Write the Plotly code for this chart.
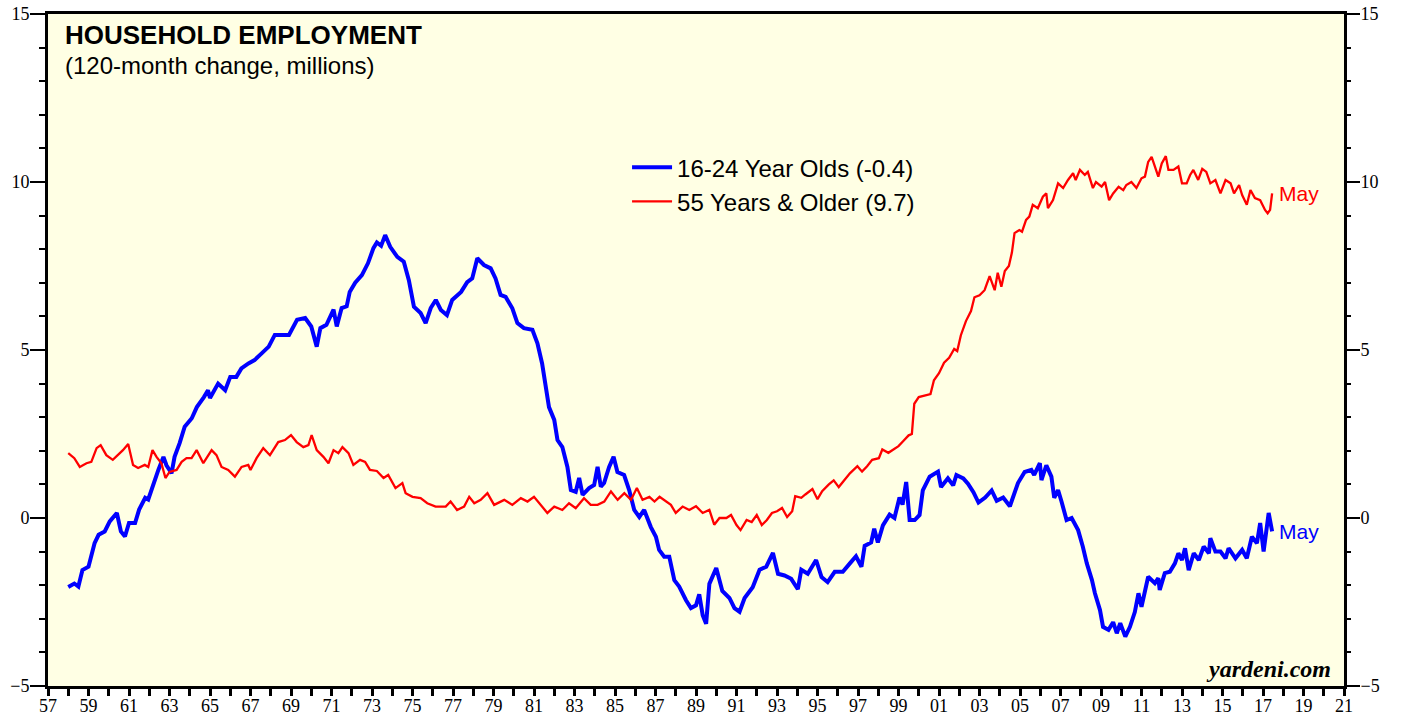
import plotly.graph_objects as go

# ---- data (decimal year, value in millions) ----
youth_dates = [1958.0, 1958.3, 1958.5, 1958.7, 1959.0, 1959.1, 1959.3, 1959.5, 1959.8, 1960.05,
    1960.4, 1960.6, 1960.8, 1961.0, 1961.3, 1961.5, 1961.8, 1961.95, 1962.2, 1962.45,
    1962.7, 1962.85, 1963.1, 1963.25, 1963.5, 1963.75, 1964.1, 1964.35, 1964.7, 1964.9,
    1965.0, 1965.4, 1965.75, 1966.0, 1966.3, 1966.55, 1966.9, 1967.2, 1967.55, 1967.9,
    1968.2, 1968.55, 1968.9, 1969.3, 1969.7, 1970.0, 1970.27, 1970.45, 1970.75, 1971.1,
    1971.26, 1971.5, 1971.75, 1971.9, 1972.17, 1972.5, 1972.8, 1973.07, 1973.24, 1973.45,
    1973.65, 1973.9, 1974.25, 1974.57, 1974.82, 1975.07, 1975.4, 1975.65, 1975.9, 1976.15,
    1976.4, 1976.7, 1976.96, 1977.4, 1977.7, 1977.95, 1978.2, 1978.53, 1978.86, 1979.1,
    1979.35, 1979.6, 1979.93, 1980.18, 1980.5, 1980.92, 1981.17, 1981.4, 1981.58, 1981.74,
    1982.0, 1982.16, 1982.4, 1982.65, 1982.82, 1983.06, 1983.23, 1983.4, 1983.72, 1983.97,
    1984.14, 1984.3, 1984.46, 1984.71, 1984.93, 1985.12, 1985.45, 1985.7, 1985.95, 1986.2,
    1986.44, 1986.77, 1987.02, 1987.18, 1987.43, 1987.68, 1987.93, 1988.17, 1988.5, 1988.75,
    1989.0, 1989.16, 1989.33, 1989.5, 1989.66, 1990.0, 1990.3, 1990.65, 1990.9, 1991.15,
    1991.4, 1991.8, 1992.14, 1992.47, 1992.8, 1993.05, 1993.37, 1993.7, 1994.03, 1994.2,
    1994.52, 1994.93, 1995.2, 1995.5, 1995.85, 1996.25, 1996.6, 1996.9, 1997.17, 1997.33,
    1997.65, 1997.8, 1997.98, 1998.23, 1998.56, 1998.8, 1999.05, 1999.2, 1999.38, 1999.55,
    1999.8, 2000.04, 2000.2, 2000.54, 2000.95, 2001.1, 2001.44, 2001.7, 2001.86, 2002.2,
    2002.43, 2002.7, 2002.95, 2003.28, 2003.6, 2003.85, 2004.17, 2004.5, 2004.9, 2005.23,
    2005.56, 2005.7, 2005.98, 2006.06, 2006.3, 2006.55, 2006.69, 2006.88, 2007.05, 2007.3,
    2007.55, 2007.87, 2008.1, 2008.3, 2008.55, 2008.7, 2008.95, 2009.1, 2009.37, 2009.6,
    2009.78, 2009.95, 2010.2, 2010.43, 2010.67, 2010.85, 2011.0, 2011.17, 2011.33, 2011.66,
    2011.83, 2011.9, 2012.15, 2012.4, 2012.65, 2012.82, 2013.0, 2013.15, 2013.33, 2013.58,
    2013.83, 2014.07, 2014.33, 2014.4, 2014.65, 2014.9, 2015.15, 2015.3, 2015.64, 2015.97,
    2016.2, 2016.45, 2016.7, 2016.86, 2017.03, 2017.28, 2017.45]
youth_values = [-2.05, -1.95, -2.04, -1.55, -1.45, -1.2, -0.75, -0.5, -0.4, -0.1,
    0.15, -0.4, -0.55, -0.15, -0.15, 0.25, 0.6, 0.55, 1.03, 1.43,
    1.82, 1.57, 1.33, 1.82, 2.23, 2.72, 2.97, 3.3, 3.6, 3.8,
    3.57, 4.0, 3.8, 4.2, 4.2, 4.45, 4.6, 4.7, 4.9, 5.1,
    5.45, 5.45, 5.45, 5.9, 5.95, 5.7, 5.1, 5.65, 5.75, 6.2,
    5.7, 6.25, 6.3, 6.73, 7.0, 7.23, 7.58, 8.03, 8.2, 8.1,
    8.42, 8.07, 7.77, 7.63, 7.08, 6.29, 6.1, 5.8, 6.25, 6.49,
    6.19, 6.04, 6.49, 6.73, 7.02, 7.13, 7.73, 7.53, 7.43, 7.13,
    6.64, 6.58, 6.24, 5.8, 5.65, 5.6, 5.2, 4.6, 3.9, 3.3,
    2.92, 2.32, 2.11, 1.52, 0.83, 0.78, 1.19, 0.69, 0.89, 0.98,
    1.52, 0.93, 1.04, 1.52, 1.82, 1.37, 1.28, 0.83, 0.24, 0.03,
    0.24, -0.27, -0.56, -0.95, -1.15, -1.15, -1.85, -2.04, -2.44, -2.68,
    -2.6, -2.27, -2.89, -3.15, -1.96, -1.49, -2.17, -2.38, -2.68, -2.79,
    -2.38, -2.06, -1.54, -1.45, -1.04, -1.66, -1.71, -1.81, -2.12, -1.54,
    -1.66, -1.25, -1.76, -1.91, -1.6, -1.6, -1.35, -1.14, -1.45, -0.83,
    -0.73, -0.32, -0.73, -0.22, 0.1, 0.0, 0.61, 0.4, 1.07, -0.06,
    -0.06, 0.09, 0.82, 1.23, 1.38, 0.92, 1.18, 0.97, 1.28, 1.18,
    1.02, 0.77, 0.46, 0.61, 0.82, 0.51, 0.61, 0.35, 1.04, 1.37,
    1.43, 1.28, 1.63, 1.13, 1.57, 1.23, 0.6, 0.83, 0.49, -0.06,
    0.0, -0.36, -0.85, -1.35, -1.84, -2.24, -2.74, -3.24, -3.33, -3.1,
    -3.43, -3.13, -3.53, -3.24, -2.8, -2.24, -2.64, -2.24, -1.75, -1.94,
    -1.79, -2.14, -1.64, -1.6, -1.35, -1.05, -1.25, -0.9, -1.55, -1.05,
    -1.25, -0.85, -1.05, -0.6, -1.0, -1.0, -1.2, -0.9, -1.2, -0.95,
    -1.2, -0.56, -0.75, -0.15, -1.0, 0.15, -0.4]

older_dates = [1958.0, 1958.3, 1958.57, 1958.9, 1959.14, 1959.4, 1959.6, 1959.88, 1960.2, 1960.46,
    1960.7, 1960.96, 1961.2, 1961.45, 1961.78, 1961.95, 1962.16, 1962.36, 1962.6, 1962.8,
    1963.0, 1963.35, 1963.6, 1963.84, 1964.09, 1964.34, 1964.67, 1965.08, 1965.32, 1965.57,
    1965.9, 1966.23, 1966.56, 1966.89, 1967.0, 1967.3, 1967.63, 1967.96, 1968.37, 1968.7,
    1969.0, 1969.28, 1969.61, 1969.86, 1970.02, 1970.27, 1970.6, 1970.85, 1971.1, 1971.34,
    1971.54, 1971.84, 1972.08, 1972.41, 1972.66, 1972.9, 1973.24, 1973.57, 1973.8, 1974.16,
    1974.5, 1974.66, 1975.0, 1975.4, 1975.73, 1976.14, 1976.64, 1976.88, 1977.2, 1977.55,
    1977.8, 1978.05, 1978.37, 1978.7, 1979.03, 1979.53, 1979.93, 1980.35, 1980.68, 1981.0,
    1981.33, 1981.66, 1982.0, 1982.4, 1982.73, 1983.06, 1983.47, 1983.8, 1984.14, 1984.47,
    1984.8, 1985.13, 1985.46, 1985.79, 1986.08, 1986.36, 1986.7, 1986.95, 1987.2, 1987.51,
    1987.76, 1988.0, 1988.34, 1988.67, 1989.0, 1989.33, 1989.66, 1989.9, 1990.16, 1990.5,
    1990.73, 1991.0, 1991.2, 1991.5, 1991.75, 1992.0, 1992.25, 1992.5, 1992.75, 1993.0,
    1993.25, 1993.5, 1993.75, 1993.9, 1994.2, 1994.4, 1994.75, 1995.0, 1995.23, 1995.56,
    1995.8, 1996.05, 1996.4, 1996.6, 1996.97, 1997.2, 1997.45, 1997.7, 1998.03, 1998.2,
    1998.5, 1998.75, 1999.0, 1999.25, 1999.5, 1999.66, 1999.78, 2000.0, 2000.25, 2000.58,
    2000.75, 2001.0, 2001.25, 2001.5, 2001.75, 2001.9, 2002.08, 2002.33, 2002.58, 2002.75,
    2003.0, 2003.25, 2003.5, 2003.75, 2003.9, 2004.08, 2004.25, 2004.45, 2004.6, 2004.73,
    2004.97, 2005.1, 2005.3, 2005.46, 2005.63, 2005.88, 2006.13, 2006.3, 2006.38, 2006.63,
    2006.88, 2007.13, 2007.37, 2007.62, 2007.75, 2007.96, 2008.2, 2008.35, 2008.6, 2008.75,
    2009.03, 2009.2, 2009.4, 2009.6, 2009.87, 2010.1, 2010.25, 2010.5, 2010.75, 2011.0,
    2011.17, 2011.33, 2011.5, 2011.66, 2011.83, 2012.0, 2012.2, 2012.33, 2012.58, 2012.82,
    2013.0, 2013.23, 2013.4, 2013.56, 2013.8, 2014.0, 2014.2, 2014.4, 2014.65, 2014.9,
    2015.15, 2015.4, 2015.57, 2015.82, 2015.97, 2016.2, 2016.38, 2016.6, 2016.86, 2017.1,
    2017.23, 2017.35, 2017.45]
older_values = [1.93, 1.78, 1.52, 1.63, 1.67, 2.08, 2.17, 1.87, 1.73, 1.87,
    2.02, 2.2, 1.58, 1.49, 1.58, 1.52, 2.02, 1.82, 1.63, 1.19,
    1.37, 1.43, 1.67, 1.78, 1.78, 2.02, 1.63, 2.02, 1.87, 1.52,
    1.43, 1.23, 1.52, 1.58, 1.43, 1.78, 2.08, 1.87, 2.26, 2.32,
    2.47, 2.26, 2.11, 2.17, 2.47, 2.02, 1.82, 1.63, 2.02, 1.93,
    2.11, 1.93, 1.58, 1.73, 1.67, 1.43, 1.4, 1.19, 1.28, 0.89,
    1.04, 0.74, 0.63, 0.59, 0.44, 0.34, 0.34, 0.49, 0.24, 0.34,
    0.63, 0.44, 0.54, 0.74, 0.39, 0.54, 0.39, 0.59, 0.49, 0.63,
    0.39, 0.15, 0.34, 0.24, 0.44, 0.29, 0.59, 0.39, 0.39, 0.49,
    0.79, 0.54, 0.74, 0.54, 0.89, 0.54, 0.63, 0.49, 0.63, 0.49,
    0.39, 0.15, 0.34, 0.24, 0.35, 0.15, 0.24, -0.2, 0.0, 0.0,
    0.09, -0.21, -0.36, -0.06, -0.12, 0.09, -0.21, -0.06, 0.15, 0.2,
    0.3, 0.03, 0.2, 0.65, 0.6, 0.7, 0.86, 0.56, 0.8, 1.0,
    1.12, 0.92, 1.17, 1.33, 1.54, 1.38, 1.54, 1.73, 1.78, 2.04,
    1.94, 2.05, 2.14, 2.3, 2.46, 2.5, 3.4, 3.6, 3.64, 3.69,
    4.1, 4.31, 4.62, 4.77, 5.03, 4.97, 5.44, 5.86, 6.16, 6.57,
    6.63, 6.78, 7.2, 6.78, 7.3, 6.88, 7.35, 7.5, 7.9, 8.48,
    8.57, 8.52, 8.87, 8.97, 9.32, 9.22, 9.56, 9.66, 9.22, 9.46,
    9.96, 9.82, 10.06, 10.26, 10.06, 10.36, 10.21, 10.3, 9.82, 10.0,
    9.86, 10.0, 9.46, 9.66, 9.86, 9.76, 9.91, 10.0, 9.82, 10.11,
    10.16, 10.6, 10.75, 10.46, 10.16, 10.55, 10.77, 10.36, 10.36, 10.46,
    9.96, 9.96, 10.21, 10.36, 10.06, 10.39, 10.3, 9.96, 10.06, 9.66,
    10.06, 9.96, 9.66, 9.91, 9.61, 9.32, 9.76, 9.52, 9.46, 9.17,
    9.07, 9.17, 9.66]

youth_name = "16-24 Year Olds (-0.4)"
older_name = "55 Years & Older (9.7)"
last_label = "May"

year_ticks = list(range(1957, 2022))
year_text = [f"{y % 100:02d}" if y % 2 == 1 else "" for y in year_ticks]
y_ticks = [-5, 0, 5, 10, 15]

BLUE = "#0000FF"
RED = "#FF0000"
SERIF = "Liberation Serif, Times New Roman, serif"
SANS = "Liberation Sans, Arial, Helvetica, sans-serif"

fig = go.Figure()
fig.add_trace(go.Scatter(x=youth_dates, y=youth_values, mode="lines", name=youth_name,
                         line=dict(color=BLUE, width=4)))
fig.add_trace(go.Scatter(x=older_dates, y=older_values, mode="lines", name=older_name,
                         line=dict(color=RED, width=2.3)))
# invisible trace to activate right axis
fig.add_trace(go.Scatter(x=[youth_dates[0]], y=[youth_values[0]], yaxis="y2", mode="lines",
                         showlegend=False, hoverinfo="skip", line=dict(width=0)))

minor_ticks = dict(dtick=1, ticklen=6, tickwidth=1.5, tickcolor="black", ticks="outside")

fig.update_layout(
    width=1403, height=717,
    margin=dict(l=48, r=59, t=14, b=31),
    paper_bgcolor="white",
    plot_bgcolor="#FFFFE4",
    showlegend=True,
    legend=dict(x=0.4468, y=0.805, xanchor="left", yanchor="top",
                bgcolor="rgba(0,0,0,0)", font=dict(family=SANS, size=24, color="black"),
                itemwidth=40, tracegroupgap=0),
    xaxis=dict(range=[1957, 2021], tickvals=year_ticks, ticktext=year_text,
               ticks="outside", ticklen=7, tickwidth=2.5, tickcolor="black",
               showline=True, mirror=True, linecolor="black", linewidth=3,
               showgrid=False, zeroline=False, automargin=False,
               ticklabeloverflow="allow", ticklabelstandoff=-6,
               tickfont=dict(family=SERIF, size=18, color="black")),
    yaxis=dict(range=[-5, 15], tickvals=y_ticks, ticks="outside", ticklen=15, tickwidth=1.5,
               tickcolor="black", showline=True, mirror=True, linecolor="black", linewidth=3,
               showgrid=False, zeroline=False, automargin=False, minor=minor_ticks,
               ticklabelstandoff=-3, ticklabeloverflow="allow",
               tickfont=dict(family=SERIF, size=18, color="black")),
    yaxis2=dict(range=[-5, 15], tickvals=y_ticks, ticks="outside", ticklen=15, tickwidth=1.5,
                tickcolor="black", overlaying="y", side="right", anchor="x", showline=False,
                showgrid=False, zeroline=False, automargin=False, minor=minor_ticks,
                ticklabelstandoff=-3, ticklabeloverflow="allow",
                tickfont=dict(family=SERIF, size=18, color="black")),
)

fig.add_annotation(x=0.0116, y=0.994, xref="paper", yref="paper", xanchor="left", yanchor="top",
                   text="<b>HOUSEHOLD EMPLOYMENT</b>", showarrow=False,
                   font=dict(family=SANS, size=26, color="black"))
fig.add_annotation(x=0.0116, y=0.9464, xref="paper", yref="paper", xanchor="left", yanchor="top",
                   text="(120-month change, millions)", showarrow=False,
                   font=dict(family=SANS, size=24, color="black"))
fig.add_annotation(x=0.9915, y=0.003, xref="paper", yref="paper", xanchor="right", yanchor="bottom",
                   text="<b><i>yardeni.com</i></b>", showarrow=False,
                   font=dict(family=SERIF, size=24, color="black"))
fig.add_annotation(x=older_dates[-1], y=older_values[-1], xanchor="left", yanchor="middle",
                   xshift=5, text=last_label, showarrow=False,
                   font=dict(family=SANS, size=21, color=RED))
fig.add_annotation(x=youth_dates[-1], y=youth_values[-1], xanchor="left", yanchor="middle",
                   xshift=5, text=last_label, showarrow=False,
                   font=dict(family=SANS, size=21, color=BLUE))

# remove the default page margin so the 1403x717 figure fills the window exactly
fig.write_html("out.html",
               config={"displayModeBar": False},
               post_script="document.body.style.margin='0';document.body.style.overflow='hidden';")
